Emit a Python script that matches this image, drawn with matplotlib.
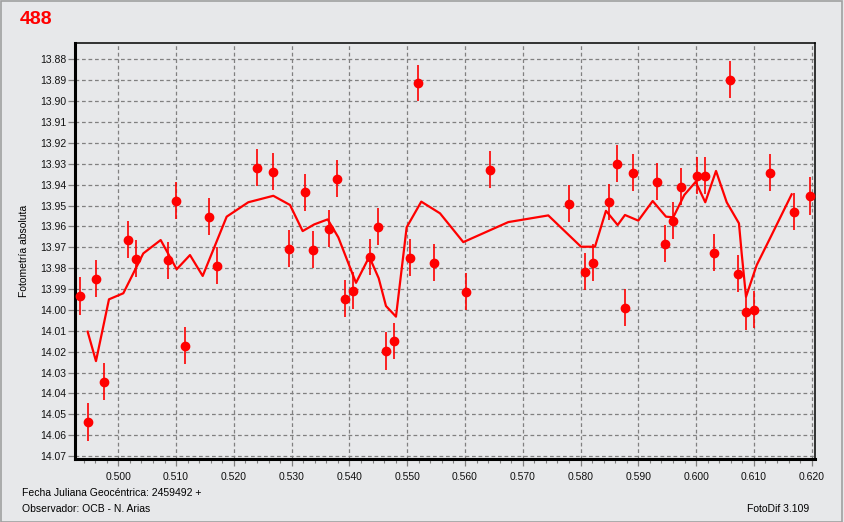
import matplotlib.pyplot as plt
from matplotlib.patches import Rectangle
from matplotlib.ticker import MultipleLocator, FormatStrFormatter

# observed points: julian date offset, magnitude, error
jd = [0.49337, 0.49476, 0.49614, 0.49747, 0.50168, 0.50306, 0.50855, 0.50999,
      0.51154, 0.51570, 0.51708, 0.52395, 0.52672, 0.52954, 0.53231, 0.53370,
      0.53647, 0.53785, 0.53924, 0.54062, 0.54351, 0.54495, 0.54633, 0.54772,
      0.55049, 0.55187, 0.55464, 0.56018, 0.56433, 0.57800, 0.58077, 0.58216,
      0.58493, 0.58631, 0.58775, 0.58908, 0.59323, 0.59462, 0.59600, 0.59739,
      0.60011, 0.60154, 0.60310, 0.60587, 0.60726, 0.60864, 0.61003, 0.61280,
      0.61695, 0.61972]
mag = [13.9932, 14.0536, 13.9850, 14.0344, 13.9663, 13.9754, 13.9762, 13.9477,
       14.0171, 13.9553, 13.9788, 13.9318, 13.9338, 13.9707, 13.9437, 13.9711,
       13.9611, 13.9371, 13.9946, 13.9908, 13.9746, 13.9601, 14.0197, 14.0149,
       13.9750, 13.8913, 13.9774, 13.9913, 13.9328, 13.9491, 13.9817, 13.9774,
       13.9483, 13.9299, 13.9989, 13.9342, 13.9386, 13.9683, 13.9572, 13.9410,
       13.9357, 13.9357, 13.9726, 13.8897, 13.9826, 14.0008, 13.9999, 13.9342,
       13.9529, 13.9453]
err = [0.0092, 0.0090, 0.0090, 0.0088, 0.0090, 0.0088, 0.0090, 0.0088,
       0.0089, 0.0088, 0.0088, 0.0088, 0.0088, 0.0088, 0.0088, 0.0088,
       0.0088, 0.0088, 0.0088, 0.0088, 0.0088, 0.0088, 0.0090, 0.0088,
       0.0088, 0.0088, 0.0088, 0.0088, 0.0088, 0.0088, 0.0088, 0.0088,
       0.0088, 0.0088, 0.0088, 0.0088, 0.0088, 0.0088, 0.0088, 0.0088,
       0.0088, 0.0088, 0.0088, 0.0088, 0.0088, 0.0088, 0.0088, 0.0088,
       0.0088, 0.0090]

# smoothed curve
fit_jd = [0.49470, 0.49614, 0.49839, 0.50087, 0.50433, 0.50734, 0.51011, 0.51241,
          0.51461, 0.51876, 0.52250, 0.52683, 0.52972, 0.53191, 0.53392, 0.53624,
          0.53808, 0.54114, 0.54344, 0.54507, 0.54633, 0.54806, 0.54991, 0.55244,
          0.55568, 0.55971, 0.56750, 0.57442, 0.58008, 0.58250, 0.58440, 0.58643,
          0.58769, 0.59000, 0.59249, 0.59479, 0.59605, 0.59796, 0.59993, 0.60159,
          0.60345, 0.60530, 0.60742, 0.60789, 0.60864, 0.61049, 0.61279, 0.61654]
fit_mag = [14.0104, 14.0245, 13.9949, 13.9920, 13.9729, 13.9665, 13.9805, 13.9737,
           13.9837, 13.9553, 13.9484, 13.9453, 13.9497, 13.9622, 13.9590, 13.9566,
           13.9652, 13.9870, 13.9745, 13.9848, 13.9981, 14.0032, 13.9604, 13.9481,
           13.9537, 13.9675, 13.9579, 13.9547, 13.9697, 13.9697, 13.9525, 13.9593,
           13.9545, 13.9572, 13.9478, 13.9553, 13.9556, 13.9449, 13.9386, 13.9484,
           13.9334, 13.9484, 13.9585, 13.9729, 13.9937, 13.9785, 13.9657, 13.9446]

bg = "#e7e8ea"
plt.rcParams["font.family"] = ["Liberation Sans", "DejaVu Sans"]

fig = plt.figure(figsize=(8.44, 5.22), dpi=100, facecolor=bg)
W, H = 844, 522
ax = fig.add_axes([75 / W, 1 - 459 / H, 740 / W, 416 / H], facecolor=bg)

ax.plot(fit_jd, fit_mag, color="#ff0000", lw=1.6, zorder=3)
ax.errorbar(jd, mag, yerr=err, fmt="o", color="#ff0000", ms=6, elinewidth=1.2,
            capsize=0, zorder=4)

ax.set_xlim(0.49251, 0.62058)
ax.set_ylim(14.0714, 13.8721)

ax.xaxis.set_major_locator(MultipleLocator(0.01))
ax.xaxis.set_minor_locator(MultipleLocator(0.002))
ax.xaxis.set_major_formatter(FormatStrFormatter("%.3f"))
ax.yaxis.set_major_locator(MultipleLocator(0.01))
ax.yaxis.set_major_formatter(FormatStrFormatter("%.2f"))

ax.grid(True, which="major", color="#808080", ls=(0, (3, 2.2)), lw=0.9)
ax.tick_params(axis="both", which="major", length=5, width=0.9, color="#808080",
               labelsize=7.5, labelcolor="#111111")
ax.tick_params(axis="x", which="minor", length=3, width=0.8, color="#808080")
ax.tick_params(axis="x", pad=4)
ax.tick_params(axis="y", pad=1)

for side in ["left", "bottom"]:
    ax.spines[side].set_linewidth(2.2)
for side in ["top", "right"]:
    ax.spines[side].set_linewidth(1.1)

ax.set_ylabel("Fotometría absoluta", fontsize=7.5, labelpad=8)

fig.text(20 / W, 1 - 19.5 / H, "488", color="#ff0000", fontsize=14,
         fontweight="bold", va="center", ha="left")
fig.text(22 / W, 1 - 493 / H, "Fecha Juliana Geocéntrica: 2459492 +",
         fontsize=7.5, va="center", ha="left")
fig.text(22 / W, 1 - 509 / H, "Observador: OCB - N. Arias",
         fontsize=7.5, va="center", ha="left")
fig.text(809 / W, 1 - 509 / H, "FotoDif 3.109",
         fontsize=7.5, va="center", ha="right")

fig.patches.append(Rectangle((0.5 / W, 0.5 / H), 1 - 2.5 / W, 1 - 1.5 / H,
                             transform=fig.transFigure, fill=False,
                             edgecolor="#a0a0a0", lw=1.2))

fig.savefig("out.png", dpi=100, facecolor=bg)
